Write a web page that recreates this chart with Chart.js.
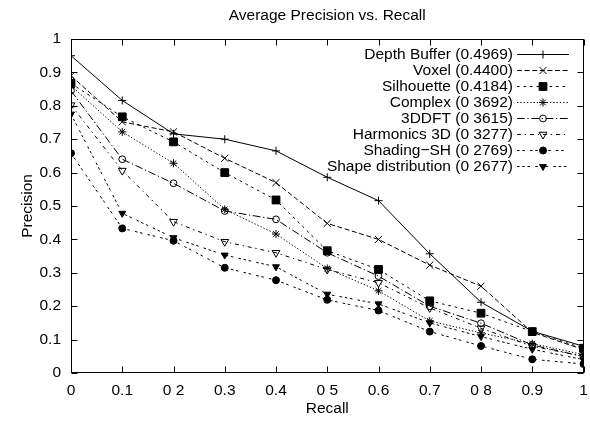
<!DOCTYPE html>
<html lang="en">
<head>
  <meta charset="UTF-8">
  <title>Average Precision vs. Recall</title>
  <script src="https://cdn.jsdelivr.net/npm/chart.js"></script>
  <style>
    html, body { margin: 0; padding: 0; background: #fff; }
  </style>
</head>
<body>
  <canvas id="prChart" width="590" height="425"></canvas>

  <script>
    // recall levels (x) and precision per method (y)
    const recall = [0, 0.1, 0.2, 0.3, 0.4, 0.5, 0.6, 0.7, 0.8, 0.9, 1];

    const depthBuffer = [0.950, 0.816, 0.716, 0.700, 0.665, 0.586, 0.516, 0.357, 0.212, 0.125, 0.080];
    const voxel       = [0.890, 0.752, 0.722, 0.643, 0.570, 0.448, 0.400, 0.323, 0.260, 0.122, 0.070];
    const silhouette  = [0.867, 0.767, 0.692, 0.600, 0.518, 0.366, 0.310, 0.216, 0.179, 0.124, 0.074];
    const complexSet  = [0.860, 0.722, 0.628, 0.490, 0.416, 0.313, 0.246, 0.156, 0.120, 0.088, 0.055];
    const dft3d       = [0.845, 0.640, 0.568, 0.485, 0.460, 0.360, 0.290, 0.200, 0.149, 0.084, 0.049];
    const harmonics3d = [0.802, 0.606, 0.453, 0.393, 0.360, 0.310, 0.270, 0.195, 0.134, 0.080, 0.050];
    const shadingSH   = [0.658, 0.433, 0.396, 0.315, 0.278, 0.219, 0.187, 0.124, 0.081, 0.041, 0.027];
    const shapeDist   = [0.775, 0.478, 0.405, 0.353, 0.318, 0.236, 0.207, 0.150, 0.109, 0.071, 0.040];

    const seriesLabels = [
      'Depth Buffer (0.4969)',
      'Voxel (0.4400)',
      'Silhouette (0.4184)',
      'Complex (0 3692)',
      '3DDFT (0 3615)',
      'Harmonics 3D (0 3277)',
      'Shading\u2212SH (0 2769)',
      'Shape distribution (0 2677)'
    ];

    const xTickLabels = ['0', '0.1', '0 2', '0.3', '0.4', '0 5', '0.6', '0.7', '0 8', '0.9', '1'];
    const yTickLabels = ['0', '0.1', '0.2', '0.3', '0.4', '0.5', '0.6', '0.7', '0.8', '0.9', '1'];

    const FAMILY = '"Liberation Sans", Arial, Helvetica, sans-serif';
    const FSIZE = 15.5;
    const NONE = 'rgba(0,0,0,0)';

    function makeSet(label, values, style) {
      return Object.assign({
        label: label,
        data: values.map((v, i) => ({ x: recall[i], y: v })),
        borderColor: '#000',
        borderWidth: 1,
        pointBorderColor: '#000',
        pointBorderWidth: 1,
        pointRotation: 0,
        tension: 0,
        fill: false
      }, style);
    }

    const datasets = [
      makeSet(seriesLabels[0], depthBuffer, { borderDash: [], pointStyle: 'cross', pointRadius: 4, pointBackgroundColor: NONE }),
      makeSet(seriesLabels[1], voxel, { borderDash: [5, 2.6], pointStyle: 'crossRot', pointRadius: 5, pointBackgroundColor: NONE }),
      makeSet(seriesLabels[2], silhouette, { borderDash: [2.6, 3.9], pointStyle: 'rect', pointRadius: 5.5, pointBackgroundColor: '#000' }),
      makeSet(seriesLabels[3], complexSet, { borderDash: [1.3, 2], pointStyle: 'star', pointRadius: 4, pointBackgroundColor: NONE }),
      makeSet(seriesLabels[4], dft3d, { borderDash: [7.8, 2.6, 1.3, 2.6], pointStyle: 'circle', pointRadius: 3.4, pointBackgroundColor: NONE }),
      makeSet(seriesLabels[5], harmonics3d, { borderDash: [3.9, 3.9, 1.3, 3.9], pointStyle: 'triangle', pointRotation: 180, pointRadius: 4.5, pointBackgroundColor: NONE }),
      makeSet(seriesLabels[6], shadingSH, { borderDash: [2.6, 2.6, 2.6, 5.2], pointStyle: 'circle', pointRadius: 3.5, pointBackgroundColor: '#000' }),
      makeSet(seriesLabels[7], shapeDist, { borderDash: [2.6, 2.6, 2.6, 2.6, 2.6, 5.2], pointStyle: 'triangle', pointRotation: 180, pointRadius: 4, pointBackgroundColor: '#000' })
    ];

    // gnuplot-like box with inward ticks on all four sides
    const framePlugin = {
      id: 'frame',
      beforeDatasetsDraw(chart) {
        const { ctx, chartArea: a, scales } = chart;
        const L = Math.round(a.left) + 0.5, R = Math.round(a.right) - 0.5;
        const T = Math.round(a.top) + 0.5, B = Math.round(a.bottom) - 0.5;
        const len = 6;
        ctx.save();
        ctx.strokeStyle = '#000';
        ctx.lineWidth = 1;
        ctx.setLineDash([]);
        ctx.strokeRect(L, T, R - L, B - T);
        ctx.beginPath();
        scales.x.ticks.forEach(t => {
          const px = Math.round(scales.x.getPixelForValue(t.value)) + 0.5;
          ctx.moveTo(px, B); ctx.lineTo(px, B - len);
          ctx.moveTo(px, T); ctx.lineTo(px, T + len);
        });
        scales.y.ticks.forEach(t => {
          const py = Math.round(scales.y.getPixelForValue(t.value)) + 0.5;
          ctx.moveTo(L, py); ctx.lineTo(L + len, py);
          ctx.moveTo(R, py); ctx.lineTo(R - len, py);
        });
        ctx.stroke();
        ctx.restore();
      }
    };

    // titles and the key (text first, then line sample with marker)
    const annotatePlugin = {
      id: 'annotate',
      afterDraw(chart) {
        const { ctx, chartArea: a } = chart;
        const cx = (a.left + a.right) / 2;
        ctx.save();
        ctx.fillStyle = '#000';
        ctx.font = FSIZE + 'px ' + FAMILY;
        ctx.textAlign = 'center';
        ctx.textBaseline = 'alphabetic';
        ctx.fillText('Average Precision vs. Recall', cx, 20);
        ctx.fillText('Recall', cx, 413);

        ctx.save();
        ctx.translate(32, (a.top + a.bottom) / 2);
        ctx.rotate(-Math.PI / 2);
        ctx.fillText('Precision', 0, 0);
        ctx.restore();

        const textRight = 513, lineStart = 517, lineEnd = 569, markX = 543;
        chart.data.datasets.forEach((ds, i) => {
          const yy = 54 + 16 * i;
          ctx.textAlign = 'right';
          ctx.textBaseline = 'middle';
          ctx.fillText(ds.label, textRight, yy + 1);

          ctx.strokeStyle = '#000';
          ctx.lineWidth = 1;
          ctx.setLineDash(ds.borderDash || []);
          ctx.beginPath();
          ctx.moveTo(lineStart, Math.round(yy) + 0.5);
          ctx.lineTo(lineEnd, Math.round(yy) + 0.5);
          ctx.stroke();
          ctx.setLineDash([]);

          ctx.fillStyle = ds.pointBackgroundColor;
          Chart.helpers.drawPoint(ctx, {
            pointStyle: ds.pointStyle,
            radius: ds.pointRadius,
            rotation: ds.pointRotation,
            borderWidth: 1
          }, markX, Math.round(yy) + 0.5);
          ctx.fillStyle = '#000';
        });
        ctx.restore();
      }
    };

    const tickFont = { family: FAMILY, size: FSIZE };

    new Chart(document.getElementById('prChart'), {
      type: 'line',
      data: { datasets: datasets },
      options: {
        responsive: false,
        animation: false,
        layout: { padding: { top: 39, right: 2, left: 0, bottom: 0 } },
        plugins: {
          legend: { display: false },
          title: { display: false },
          tooltip: { enabled: false }
        },
        scales: {
          x: {
            type: 'linear',
            min: 0,
            max: 1,
            grid: { display: false, drawTicks: false },
            border: { display: false },
            ticks: {
              stepSize: 0.1,
              autoSkip: false,
              maxRotation: 0,
              padding: 8,
              color: '#000',
              font: tickFont,
              callback: (v, i) => xTickLabels[i]
            },
            afterFit: s => { s.height = 52; s.paddingLeft = 0; s.paddingRight = 0; }
          },
          y: {
            type: 'linear',
            min: 0,
            max: 1,
            grid: { display: false, drawTicks: false },
            border: { display: false },
            ticks: {
              stepSize: 0.1,
              autoSkip: false,
              padding: 10,
              color: '#000',
              font: tickFont,
              callback: (v, i) => yTickLabels[i]
            },
            afterFit: s => { s.width = 71; s.paddingTop = 0; s.paddingBottom = 0; }
          }
        }
      },
      plugins: [framePlugin, annotatePlugin]
    });
  </script>
</body>
</html>
